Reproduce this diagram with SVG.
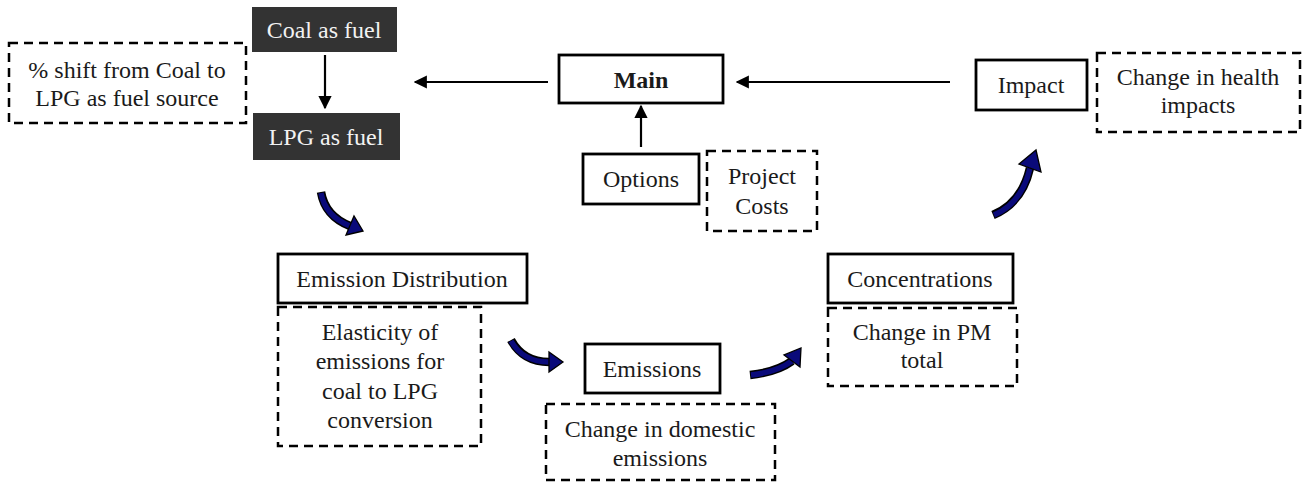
<svg xmlns="http://www.w3.org/2000/svg" width="1308" height="482" viewBox="0 0 1308 482">
<style>
text{font-family:"Liberation Serif","Times New Roman",serif;font-size:24px;fill:#1a1a1a;text-anchor:middle}
.solid{fill:#fff;stroke:#000;stroke-width:2.8}
.dash{fill:none;stroke:#000;stroke-width:2.5;stroke-dasharray:9 6}
.dark{fill:#333;stroke:none}
.light{fill:#f2f2f2}
.conn{stroke:#000;stroke-width:2.2;fill:none}
.bo{fill:none;stroke:#000;stroke-width:8.5}
.bi{fill:none;stroke:#0a0a7a;stroke-width:5.5}
.bh{fill:#0a0a7a;stroke:#000;stroke-width:1.3;stroke-linejoin:miter}
</style>
<defs>
<marker id="ah" viewBox="0 0 10 10" refX="9" refY="5" markerWidth="6" markerHeight="6" orient="auto" markerUnits="strokeWidth">
<path d="M0,0 L10,5 L0,10 z" fill="#000"/>
</marker>
</defs>
<rect width="1308" height="482" fill="#fff"/>
<g id="connectors">
<line class="conn" x1="325" y1="55" x2="325" y2="108" marker-end="url(#ah)"/>
<line class="conn" x1="548" y1="82" x2="415" y2="82" marker-end="url(#ah)"/>
<line class="conn" x1="950" y1="82" x2="737" y2="82" marker-end="url(#ah)"/>
<line class="conn" x1="641" y1="147" x2="641" y2="106" marker-end="url(#ah)"/>
<g id="curve1">
<path class="bo" d="M321 192 Q325 216 350 226"/>
<path class="bi" d="M321 193 Q325 216 350 226"/>
<polygon class="bh" points="363,231 346,235 354,216"/>
</g>
<g id="curve2">
<path class="bo" d="M511 340 Q523 362 549 362"/>
<path class="bi" d="M511 341 Q523 362 549 362"/>
<polygon class="bh" points="563,362 549,372 549,352"/>
</g>
<g id="curve3">
<path class="bo" d="M750 375 Q777 372 792 361"/>
<path class="bi" d="M751 375 Q777 372 792 361"/>
<polygon class="bh" points="801,348 800,367 784,355"/>
</g>
<g id="curve4">
<path class="bo" d="M993 215 Q1022 203 1030 168"/>
<path class="bi" d="M994 215 Q1022 203 1030 168"/>
<polygon class="bh" points="1036,150 1041,172 1019,164"/>
</g>
</g>
<g id="coal">
<rect class="dark" x="252" y="7" width="145" height="45"/>
<text class="light" x="324" y="38">Coal as fuel</text>
</g>
<g id="lpg">
<rect class="dark" x="253" y="113" width="147" height="47"/>
<text class="light" x="326" y="145">LPG as fuel</text>
</g>
<g id="shift">
<rect class="dash" x="9" y="43" width="237" height="80"/>
<text x="127" y="78">% shift from Coal to</text>
<text x="127" y="106">LPG as fuel source</text>
</g>
<g id="main">
<rect class="solid" x="559" y="55" width="164" height="48"/>
<text x="641" y="88" font-weight="bold">Main</text>
</g>
<g id="options">
<rect class="solid" x="583" y="154" width="116" height="50"/>
<text x="641" y="187">Options</text>
</g>
<g id="costs">
<rect class="dash" x="707" y="151" width="110" height="80"/>
<text x="762" y="184">Project</text>
<text x="762" y="214">Costs</text>
</g>
<g id="impact">
<rect class="solid" x="976" y="60" width="111" height="50"/>
<text x="1031" y="93">Impact</text>
</g>
<g id="health">
<rect class="dash" x="1097" y="53" width="203" height="79"/>
<text x="1198" y="85">Change in health</text>
<text x="1198" y="113">impacts</text>
</g>
<g id="emdist">
<rect class="solid" x="278" y="254" width="249" height="49"/>
<text x="402" y="287">Emission Distribution</text>
</g>
<g id="elasticity">
<rect class="dash" x="278" y="307" width="203" height="139"/>
<text x="380" y="340">Elasticity of</text>
<text x="380" y="369">emissions for</text>
<text x="380" y="399">coal to LPG</text>
<text x="380" y="428">conversion</text>
</g>
<g id="emissions">
<rect class="solid" x="585" y="344" width="135" height="49"/>
<text x="652" y="377">Emissions</text>
</g>
<g id="domestic">
<rect class="dash" x="546" y="404" width="229" height="76"/>
<text x="660" y="437">Change in domestic</text>
<text x="660" y="466">emissions</text>
</g>
<g id="concentrations">
<rect class="solid" x="828" y="254" width="185" height="49"/>
<text x="920" y="287">Concentrations</text>
</g>
<g id="pm">
<rect class="dash" x="828" y="308" width="189" height="78"/>
<text x="922" y="340">Change in PM</text>
<text x="922" y="368">total</text>
</g>
</svg>
